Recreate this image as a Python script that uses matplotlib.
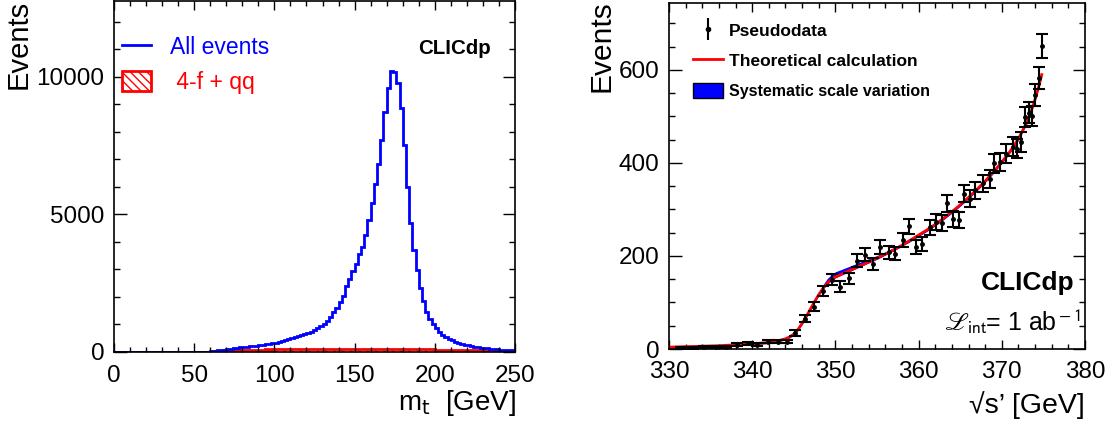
import numpy as np
import matplotlib
matplotlib.use('Agg')
import matplotlib.pyplot as plt
from matplotlib.ticker import MultipleLocator
from matplotlib.lines import Line2D
from matplotlib.patches import Patch

plt.rcParams['font.family'] = ['Liberation Sans', 'DejaVu Sans']
plt.rcParams['hatch.color'] = 'red'
plt.rcParams['hatch.linewidth'] = 1.0

# left panel: reconstructed top mass, 2 GeV bins from 0 to 250
mt_edges = np.arange(0, 252, 2)
all_events = [0, 0, 0, 0, 0, 0, 0, 0, 0, 0, 0, 0, 0, 0, 0, 0, 0, 0, 0, 0, 0, 0, 0, 0,
              2, 3, 4, 6,
              10, 18, 30, 45, 60, 75, 90, 105, 120, 135, 150, 165, 180, 190, 200, 215,
              230, 245, 260, 275, 290, 310, 335, 365, 400, 430, 460, 495, 530, 565, 600, 640,
              690, 740, 800, 860, 930, 1020, 1120, 1270, 1450, 1600, 1800, 2050, 2400, 2650,
              2950, 3200, 3550, 3800, 4250, 4800, 5430, 6120, 6830, 7700, 8730, 9580, 10230,
              10190, 9770, 8860, 7530, 6010, 4680, 3720, 2980, 2320, 1840, 1470, 1210, 1030,
              870, 740, 630, 540, 470, 420, 370, 330, 295, 265, 240, 215, 195, 175, 158, 142,
              130, 118, 108, 98, 90, 82, 75, 68, 62]
background = [0, 0, 0, 0, 0, 0, 0, 0, 0, 0, 0, 0, 0, 0, 0, 0, 0, 0, 0, 0, 0, 0, 0, 0, 0, 0,
              0, 0, 0, 0, 0,
              20, 35, 50, 60, 65, 70, 72, 75, 78, 80, 82, 80, 85, 88, 84, 90, 92, 88, 95, 98,
              105, 100, 110, 104, 102, 98, 100, 96, 98, 95, 100, 97, 95, 102, 98, 100, 96, 104,
              100, 102, 108, 105, 112, 110, 115, 118, 112, 116, 110, 108, 105, 110, 106, 108,
              112, 115, 118, 120, 115, 118, 112, 114, 110, 108, 105, 100, 98, 95, 92, 90, 88,
              85, 84, 80, 78, 76, 74, 72, 70, 68, 66, 64, 62, 60, 58, 56, 54, 52, 50, 48, 46,
              44, 42, 40]

# right panel: threshold scan
theory_e = [330, 332, 334, 336, 338, 340, 342, 343, 344, 344.5, 345, 345.5, 346, 346.5,
            347, 347.5, 348, 348.5, 349, 349.5, 350, 351, 352, 353, 354, 355, 356, 357,
            358, 359, 360, 361, 362, 363, 364, 365, 366, 367, 368, 369, 370, 371, 372,
            373, 373.5, 374, 374.5, 374.8]
theory_n = [4, 5, 6, 7, 9, 11, 14, 17, 22, 26, 32, 42, 55, 70, 86, 102, 117, 130, 141, 149,
            155, 163, 171, 179, 187, 195, 204, 213, 223, 234, 245, 256, 268, 281, 295, 310,
            326, 343, 361, 381, 402, 425, 452, 487, 510, 537, 568, 590]
band_lo = [2, 3, 4, 5, 7, 9, 12, 15, 20, 24, 30, 40, 53, 68, 84, 100, 115, 128, 139, 147,
           153, 161, 169, 177, 185, 193, 202, 211, 221, 231, 242, 253, 265, 278, 292, 307,
           323, 340, 358, 378, 399, 422, 449, 484, 507, 534, 565, 587]
band_hi = [6, 7, 8, 9, 11, 13, 16, 19, 24, 28, 34, 45, 58, 73, 90, 107, 123, 138, 151, 160,
           166, 173, 180, 187, 194, 201, 209, 218, 227, 238, 248, 259, 271, 284, 298, 313,
           329, 346, 364, 384, 405, 428, 455, 490, 513, 540, 571, 593]
data_e = [331.5, 332.85, 334.2, 335.6, 336.9, 338.2, 339.5, 340.55, 341.9, 343.1, 344.2,
          345.2, 346.4, 347.45, 348.5, 349.6, 350.6, 351.6, 352.6, 353.5, 354.5, 355.4,
          356.4, 357.2, 358.1, 358.85, 359.7, 360.4, 361.4, 362.1, 362.8, 363.4, 364.1,
          364.9, 365.5, 366.2, 366.8, 367.7, 368.6, 369.1, 369.8, 370.55, 371.3, 371.8,
          372.3, 372.8, 373.3, 373.6, 374.0, 374.45, 374.8]
data_n = [2, 2, 4, 4, 4, 9, 12, 9, 16, 16, 16, 35, 65, 91, 124, 149, 134, 152, 190, 203,
          183, 219, 208, 205, 235, 264, 219, 226, 262, 273, 271, 313, 280, 277, 334, 323,
          341, 356, 366, 399, 402, 420, 435, 431, 445, 499, 508, 501, 546, 583, 652]
data_err = [1.4, 1.4, 2, 2, 2, 3, 3.5, 3, 4, 4, 4, 6, 8, 9.5, 11, 12, 11.5, 12.3, 13.8,
            14.2, 13.5, 14.8, 14.4, 14.3, 15.3, 16.2, 14.8, 15, 16.2, 16.5, 16.5, 17.7, 16.7,
            16.6, 18.3, 18, 18.5, 18.9, 19.1, 20, 20, 20.5, 20.9, 20.8, 21.1, 22.3, 22.5,
            22.4, 23.4, 24.1, 25.5]

W, H = 1115, 425
fig = plt.figure(figsize=(W / 100, H / 100), dpi=100)
ax1 = fig.add_axes([114 / W, 1 - 352 / H, 401 / W, 351 / H])
ax2 = fig.add_axes([669 / W, 1 - 349 / H, 416 / W, 346 / H])


def root_style(ax):
    for s in ax.spines.values():
        s.set_linewidth(1.2)
    ax.tick_params(which='both', direction='in', top=True, right=True, width=1.0,
                   labelsize=17.5, pad=7)
    ax.tick_params(axis='x', pad=9)
    ax.tick_params(axis='y', which='major', length=9)
    ax.tick_params(axis='y', which='minor', length=4.5)
    ax.tick_params(axis='x', which='major', length=6.5)
    ax.tick_params(axis='x', which='minor', length=3.5)


# left
ax1.stairs(background, mt_edges, fill=True, facecolor='none', edgecolor='red',
           hatch='\\\\\\\\', linewidth=2)
ax1.stairs(all_events, mt_edges, color='blue', linewidth=2)
ax1.set_xlim(0, 250)
ax1.set_ylim(0, 12760)
ax1.xaxis.set_major_locator(MultipleLocator(50))
ax1.xaxis.set_minor_locator(MultipleLocator(10))
ax1.yaxis.set_major_locator(MultipleLocator(5000))
ax1.yaxis.set_minor_locator(MultipleLocator(1000))
root_style(ax1)

h_all = Line2D([], [], color='blue', lw=2)
h_bkg = Patch(facecolor='white', edgecolor='red', hatch='\\\\\\\\', linewidth=2)
leg1 = ax1.legend([h_all, h_bkg], ['All events', ' 4-f + qq'], loc='upper left',
                  bbox_to_anchor=(0.02, 0.90), frameon=False, fontsize=16.5,
                  handlelength=1.25, handleheight=1.0, handletextpad=0.85,
                  labelspacing=0.5, borderpad=0, borderaxespad=0,
                  labelcolor=['blue', 'red'])
ax1.text(0.94, 0.865, 'CLICdp', transform=ax1.transAxes, ha='right', va='center',
         fontsize=14.8, fontweight='bold')

fig.text(19 / W, 1 - 0 / H, 'Events', rotation=90, ha='center', va='top', fontsize=21)
fig.text(516 / W, 1 - 403 / H, r'm$_{\mathsf{t}}$  [GeV]', ha='right', va='center',
         fontsize=20)

# right
ax2.fill_between(theory_e, band_lo, band_hi, color='blue', linewidth=0)
ax2.plot(theory_e, theory_n, color='red', lw=2)
ax2.errorbar(data_e, data_n, yerr=data_err, fmt='o', color='black', ms=2.5,
             capsize=4, elinewidth=1.5, capthick=1.5)
ax2.set_xlim(330, 380)
ax2.set_ylim(0, 744)
ax2.xaxis.set_major_locator(MultipleLocator(10))
ax2.xaxis.set_minor_locator(MultipleLocator(2))
ax2.yaxis.set_major_locator(MultipleLocator(200))
ax2.yaxis.set_minor_locator(MultipleLocator(50))
root_style(ax2)

h_data = (Line2D([], [], color='black', marker='|', ms=16, mew=1.5, ls='none'),
          Line2D([], [], color='black', marker='o', ms=3, ls='none'))
h_th = Line2D([], [], color='red', lw=2)
h_band = Patch(facecolor='blue', edgecolor='black', linewidth=1)
leg2 = ax2.legend([h_data, h_th, h_band],
                  ['Pseudodata', 'Theoretical calculation', 'Systematic scale variation'],
                  loc='upper left', bbox_to_anchor=(0.058, 0.945), frameon=False,
                  handlelength=1.7, handleheight=1.0, handletextpad=0.35,
                  labelspacing=0.78, borderpad=0, borderaxespad=0,
                  prop={'weight': 'bold', 'size': 12.5})
leg2.get_texts()[2].set_fontsize(11.5)

ax2.text(0.975, 0.19, 'CLICdp', transform=ax2.transAxes, ha='right', va='center',
         fontsize=19, fontweight='bold')
ax2.text(0.99, 0.08, r'$\mathscr{L}_{\rm int}$= 1 ab$^{\rm -1}$',
         transform=ax2.transAxes, ha='right', va='center', fontsize=18,
         math_fontfamily='stixsans')

fig.text(601 / W, 1 - 0 / H, 'Events', rotation=90, ha='center', va='top', fontsize=21.5)
fig.text(1085 / W, 1 - 405 / H, '√s’ [GeV]', ha='right', va='center', fontsize=20.5)

fig.savefig('out.png', dpi=100)
